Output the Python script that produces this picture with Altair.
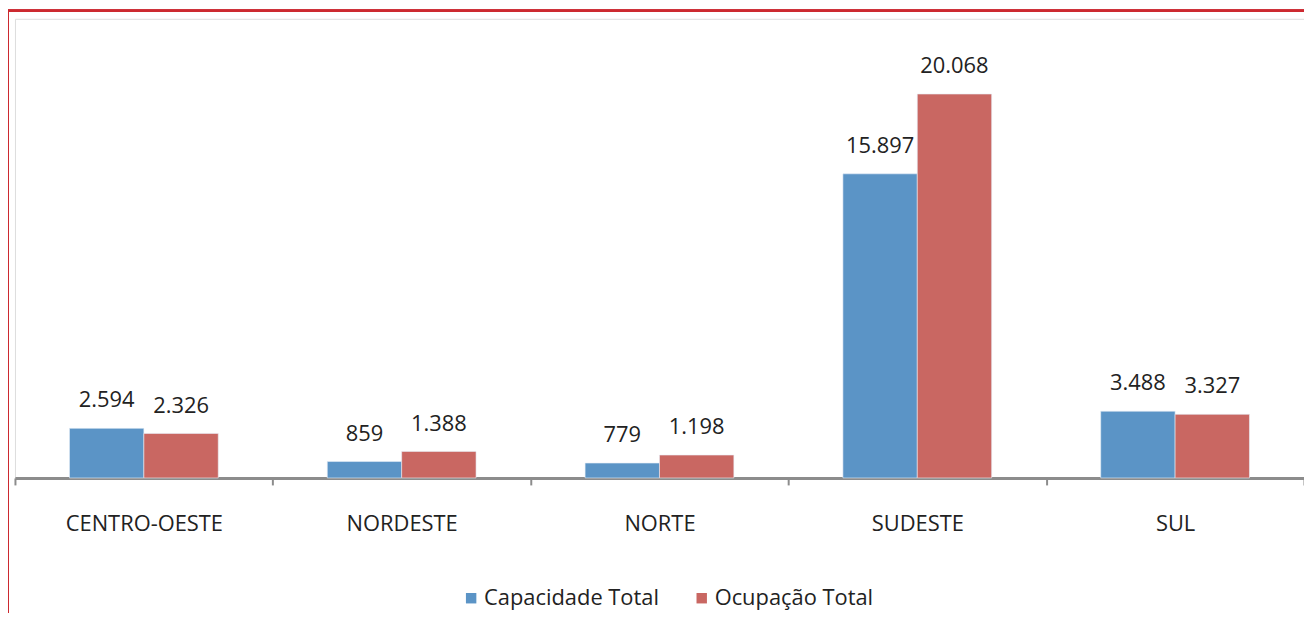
import altair as alt
import pandas as pd

regions = ["CENTRO-OESTE", "NORDESTE", "NORTE", "SUDESTE", "SUL"]
series = ["Capacidade Total", "Ocupação Total"]
capacidade = [2594, 859, 779, 15897, 3488]
ocupacao = [2326, 1388, 1198, 20068, 3327]
colors = ["#5b94c6", "#c96762"]

rows = []
for r, c, o in zip(regions, capacidade, ocupacao):
    rows.append({"regiao": r, "serie": series[0], "valor": c,
                 "rotulo": f"{c:,}".replace(",", ".")})
    rows.append({"regiao": r, "serie": series[1], "valor": o,
                 "rotulo": f"{o:,}".replace(",", ".")})
df = pd.DataFrame(rows)

FONT = "Open Sans"
FS = 22

x = alt.X("regiao:N", sort=regions, title=None,
          scale=alt.Scale(paddingInner=0, paddingOuter=0),
          axis=alt.Axis(labelAngle=0, tickBand="extent", tickSize=7, tickWidth=2,
                        tickColor="#8c8c8c", domainColor="#8c8c8c", domainWidth=3,
                        labelFont=FONT, labelFontSize=FS, labelColor="#222222",
                        labelPadding=29, labelLimit=400))
xo = alt.XOffset("serie:N", sort=series,
                 scale=alt.Scale(paddingInner=0, paddingOuter=0.733))
y = alt.Y("valor:Q", title=None, scale=alt.Scale(domain=[0, 24000], nice=False),
          axis=None)

bars = alt.Chart(df).mark_bar(stroke="#e8eef6", strokeWidth=0.6).encode(
    x=x, xOffset=xo, y=y,
    color=alt.Color("serie:N", sort=series,
                    scale=alt.Scale(domain=series, range=colors),
                    legend=alt.Legend(title=None, orient="none", legendX=448, legendY=572,
                                      direction="horizontal", symbolType="square",
                                      symbolSize=110, symbolStrokeWidth=0,
                                      labelFont=FONT, labelFontSize=FS,
                                      labelColor="#222222", columnPadding=31,
                                      labelOffset=2, labelLimit=400)),
)

labels = alt.Chart(df).mark_text(font=FONT, fontSize=FS, color="#222222",
                                 baseline="alphabetic", dy=-21).encode(
    x=x, xOffset=xo, y=y, text="rotulo:N")

frame_top = alt.Chart(df).mark_rule(color="#cc2a30", strokeWidth=2).encode(
    x=alt.value(-7), x2=alt.value(1400), y=alt.value(-8))
frame_left = alt.Chart(df).mark_rule(color="#cc2a30", strokeWidth=2).encode(
    x=alt.value(-7), y=alt.value(-8), y2=alt.value(700))

chart = alt.layer(bars, labels, frame_top, frame_left).properties(
    width=1297, height=462,
    autosize=alt.AutoSizeParams(type="none"),
    padding={"left": 7, "top": 9, "right": 0, "bottom": 134},
).configure_view(stroke=None).configure(background="white")

chart.save("out.html", embed_options={"renderer": "svg", "actions": False})
